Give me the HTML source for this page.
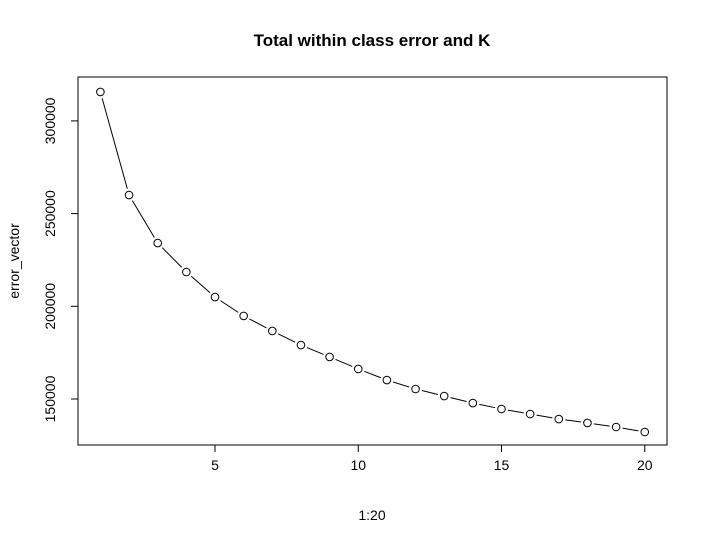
<!DOCTYPE html>
<html><head><meta charset="utf-8"><style>
body{margin:0;background:#fff}
svg{display:block;font-family:"Liberation Sans",sans-serif}
</style></head><body>
<svg id="chart" width="707" height="544" viewBox="0 0 707 544">
<rect width="707" height="544" fill="#fff"/>
<text x="372" y="46" text-anchor="middle" font-size="17" font-weight="bold">Total within class error and K</text>
<rect x="78" y="77" width="589" height="368" fill="none" stroke="#000" stroke-width="1"/>
<g id="xaxis"></g>
<g id="yaxis"></g>
<text x="372" y="520" text-anchor="middle" font-size="14">1:20</text>
<text transform="translate(19,261) rotate(-90)" text-anchor="middle" font-size="14">error_vector</text>
<g id="series"></g>
</svg>
<script>
const kValues=[1,2,3,4,5,6,7,8,9,10,11,12,13,14,15,16,17,18,19,20];
const errorValues=[315600,260000,234100,218500,205000,194800,186700,179100,172700,166200,160200,155400,151600,147800,144600,141900,139200,137100,134900,132200];
const xTicks=[5,10,15,20];
const yTicks=[150000,200000,250000,300000];
const NS="http://www.w3.org/2000/svg";
function xs(v){return 100.4+(v-1)*28.65;}
function ys(v){return 399-(v-150000)/50000*92.7;}
function mk(tag,attrs,parent){const e=document.createElementNS(NS,tag);for(const k in attrs)e.setAttribute(k,attrs[k]);parent.appendChild(e);return e;}
const xa=document.getElementById('xaxis'),ya=document.getElementById('yaxis'),sg=document.getElementById('series');
mk('line',{x1:xs(xTicks[0]),x2:xs(xTicks[xTicks.length-1]),y1:445,y2:445,stroke:'#000'},xa);
xTicks.forEach(t=>{
 const l=mk('line',{x1:xs(t),x2:xs(t),y1:445,y2:452,stroke:'#000'},xa);
 
 
 const tx=mk('text',{x:xs(t),y:470,'text-anchor':'middle','font-size':14},xa);tx.textContent=t;
 
 
});
mk('line',{x1:78,x2:78,y1:ys(yTicks[0]),y2:ys(yTicks[yTicks.length-1]),stroke:'#000'},ya);
yTicks.forEach(t=>{
 const l=mk('line',{x1:71,x2:78,y1:ys(t),y2:ys(t),stroke:'#000'},ya);
 
 
 const tx=mk('text',{transform:`translate(55,${ys(t)}) rotate(-90)`,'text-anchor':'middle','font-size':14},ya);tx.textContent=t;
 
 
});
const gap=6.5;
for(let i=0;i<kValues.length-1;i++){
 const x1=xs(kValues[i]),y1=ys(errorValues[i]),x2=xs(kValues[i+1]),y2=ys(errorValues[i+1]);
 const d=Math.hypot(x2-x1,y2-y1);if(d<=2*gap)continue;
 const ux=(x2-x1)/d,uy=(y2-y1)/d;
 const l=mk('line',{x1:x1+ux*gap,y1:y1+uy*gap,x2:x2-ux*gap,y2:y2-uy*gap,stroke:'#000','stroke-width':1},sg);
 
 
}
kValues.forEach((k,i)=>{
 const c=mk('circle',{cx:xs(k),cy:ys(errorValues[i]),r:3.8,fill:'none',stroke:'#000','stroke-width':1},sg);
 
 
});
</script>
</body></html>
